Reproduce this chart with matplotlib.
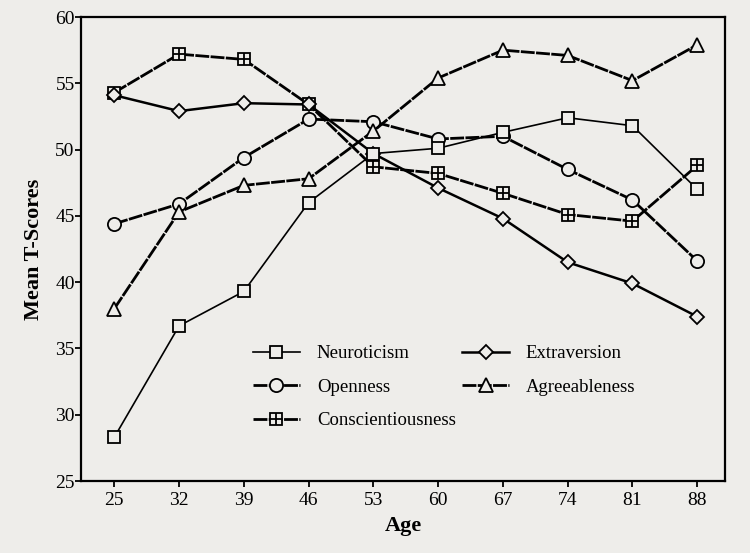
import matplotlib
matplotlib.use("Agg")
import matplotlib.pyplot as plt

ages = [25, 32, 39, 46, 53, 60, 67, 74, 81, 88]
neuroticism = [28.3, 36.7, 39.3, 46.0, 49.7, 50.1, 51.3, 52.4, 51.8, 47.0]
openness = [44.4, 45.9, 49.4, 52.3, 52.1, 50.8, 51.0, 48.5, 46.2, 41.6]
conscientiousness = [54.3, 57.2, 56.8, 53.4, 48.7, 48.2, 46.7, 45.1, 44.6, 48.8]
extraversion = [54.1, 52.9, 53.5, 53.4, 49.7, 47.1, 44.8, 41.5, 39.9, 37.4]
agreeableness = [38.0, 45.3, 47.3, 47.8, 51.4, 55.4, 57.5, 57.1, 55.2, 57.9]
y_ticks = [25, 30, 35, 40, 45, 50, 55, 60]

bg = "#eeedea"
plt.rcParams["font.family"] = ["Liberation Serif", "DejaVu Serif"]

fig = plt.figure(figsize=(7.5, 5.53), dpi=100, facecolor=bg)
ax = fig.add_axes([81/750, 1-481/553, (725-81)/750, (481-17)/553], facecolor=bg)

dash = (0, (5, 0.5))
common = dict(color="black", markerfacecolor=bg, markeredgecolor="black",
              markeredgewidth=1.3)

hN, = ax.plot(ages, neuroticism, ls="-", lw=1.2, marker="s", ms=9, **common, zorder=5)
hO, = ax.plot(ages, openness, ls=dash, lw=2.0, marker="o", ms=9.5, **common, zorder=4)
hC1, = ax.plot(ages, conscientiousness, ls=dash, lw=2.0, marker="s", ms=9, **common, zorder=3)
hC2, = ax.plot(ages, conscientiousness, ls="none", marker="+", ms=9,
               markeredgecolor="black", markeredgewidth=1.3, zorder=3.1)
hE, = ax.plot(ages, extraversion, ls="-", lw=1.8, marker="D", ms=7, **common, zorder=4.5)
hA, = ax.plot(ages, agreeableness, ls=dash, lw=2.0, marker="^", ms=9.5, **common, zorder=4)

ax.set_xlim(21.4, 91.0)
ax.set_ylim(25, 60)
ax.set_xticks(ages)
ax.set_yticks(y_ticks)
ax.tick_params(axis="x", direction="out", length=4, width=1.3, pad=4, labelsize=14)
ax.tick_params(axis="y", direction="out", length=4, width=1.3, pad=0.5, labelsize=14)
ax.tick_params(top=False, right=False)
for s in ax.spines.values():
    s.set_linewidth(1.6)

ax.set_xlabel("Age", fontsize=16, fontweight="bold", labelpad=5)
ax.set_ylabel("Mean T-Scores", fontsize=16, fontweight="bold", labelpad=8)

leg = ax.legend([hN, hO, (hC1, hC2), hE, hA],
                ["Neuroticism", "Openness", "Conscientiousness", "Extraversion", "Agreeableness"],
                ncol=2, frameon=False, fontsize=13.5, loc="upper left",
                bbox_to_anchor=(253/750, 1-345/553), bbox_transform=fig.transFigure,
                borderpad=0, borderaxespad=0, handlelength=2.5, handletextpad=0.9,
                columnspacing=0.35, labelspacing=0.88)

fig.savefig("out.png", dpi=100, facecolor=bg)
